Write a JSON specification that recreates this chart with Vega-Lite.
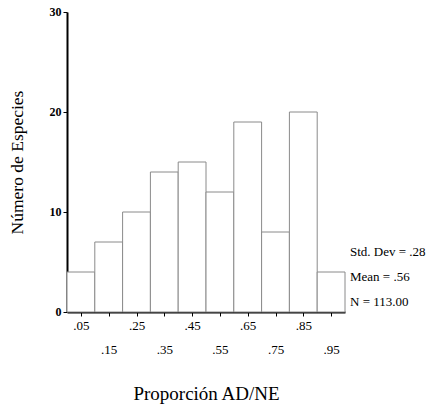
{
  "$schema": "https://vega.github.io/schema/vega-lite/v6.json",
  "width": 278,
  "height": 300,
  "autosize": "none",
  "padding": {"left": 67, "top": 12, "right": 95, "bottom": 92},
  "background": "white",
  "config": {
    "view": {"stroke": null},
    "font": "Liberation Serif"
  },
  "layer": [
    {
      "data": {
        "values": [
          {"start": 0.0, "end": 0.1, "count": 4},
          {"start": 0.1, "end": 0.2, "count": 7},
          {"start": 0.2, "end": 0.3, "count": 10},
          {"start": 0.3, "end": 0.4, "count": 14},
          {"start": 0.4, "end": 0.5, "count": 15},
          {"start": 0.5, "end": 0.6, "count": 12},
          {"start": 0.6, "end": 0.7, "count": 19},
          {"start": 0.7, "end": 0.8, "count": 8},
          {"start": 0.8, "end": 0.9, "count": 20},
          {"start": 0.9, "end": 1.0, "count": 4}
        ]
      },
      "mark": {"type": "bar", "fill": "white", "stroke": "#8a8a8a", "strokeWidth": 1},
      "encoding": {
        "x": {
          "field": "start",
          "type": "quantitative",
          "scale": {"domain": [0, 1], "nice": false, "zero": false},
          "axis": {
            "values": [0.05, 0.15, 0.25, 0.35, 0.45, 0.55, 0.65, 0.75, 0.85, 0.95],
            "tickCount": 30,
            "labelExpr": "round(datum.value * 20) % 4 == 3 ? ['', replace(format(datum.value, '.2f'), '0.', '.')] : replace(format(datum.value, '.2f'), '0.', '.')",
            "grid": false,
            "domainColor": "black",
            "domainWidth": 2,
            "tickColor": "black",
            "tickSize": 4,
            "tickWidth": 1,
            "labelFont": "Liberation Serif",
            "labelFontSize": 13,
            "labelLineHeight": 24,
            "labelColor": "black",
            "labelFlush": false,
            "labelOverlap": false,
            "labelPadding": 3,
            "title": "Proporción AD/NE",
            "titleFont": "Liberation Serif",
            "titleFontSize": 19,
            "titleFontWeight": "normal",
            "titleColor": "black",
            "titlePadding": 28
          }
        },
        "x2": {"field": "end"},
        "y": {
          "field": "count",
          "type": "quantitative",
          "scale": {"domain": [0, 30], "nice": false},
          "axis": {
            "values": [0, 10, 20, 30],
            "grid": false,
            "domainColor": "black",
            "domainWidth": 2,
            "tickColor": "black",
            "tickSize": 4,
            "labelFont": "Liberation Serif",
            "labelFontSize": 12,
            "labelFontWeight": "bold",
            "labelColor": "black",
            "labelPadding": 2,
            "labelBaseline": "alphabetic",
            "labelOffset": 3,
            "title": "Número de Especies",
            "titleFont": "Liberation Serif",
            "titleFontSize": 17.5,
            "titleFontWeight": "normal",
            "titleColor": "black",
            "titlePadding": 23
          }
        },
        "y2": {"datum": 0}
      }
    },
    {
      "data": {
        "values": [
          {"label": "Std. Dev = .28", "xpos": 1.0, "ypos": 6.0},
          {"label": "Mean = .56", "xpos": 1.0, "ypos": 3.5},
          {"label": "N = 113.00", "xpos": 1.0, "ypos": 1.0}
        ]
      },
      "mark": {"type": "text", "align": "left", "baseline": "middle", "dx": 5, "fontSize": 13, "font": "Liberation Serif", "color": "black"},
      "encoding": {
        "x": {"field": "xpos", "type": "quantitative"},
        "y": {"field": "ypos", "type": "quantitative"},
        "text": {"field": "label"}
      }
    }
  ]
}
